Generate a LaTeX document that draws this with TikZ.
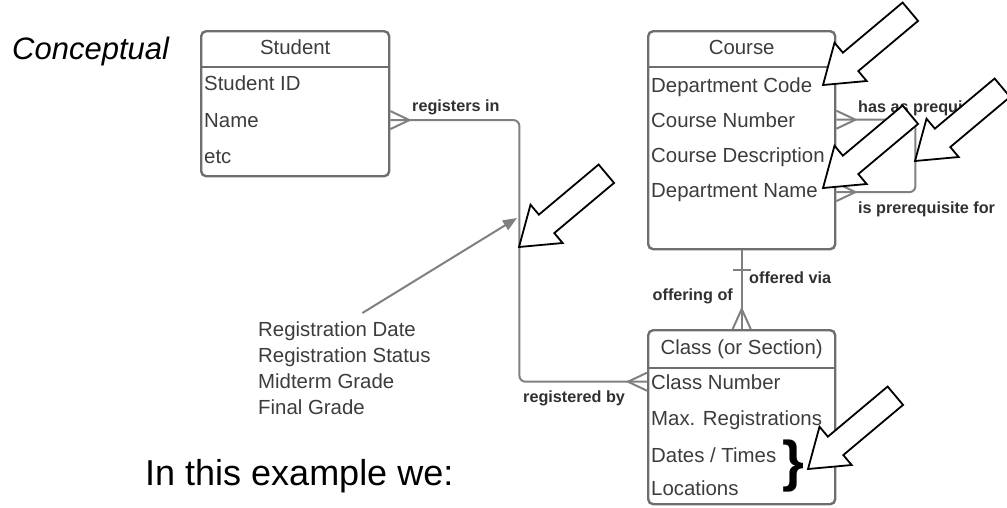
\documentclass[tikz,border=0pt]{standalone}
\usepackage{fontspec}
\setmainfont{Liberation Sans}
\usetikzlibrary{arrows.meta,positioning,calc}
\definecolor{boxgray}{HTML}{6E6E6E}
\definecolor{linegray}{HTML}{808080}
\definecolor{txtgray}{HTML}{3C3C3C}
\definecolor{lblgray}{HTML}{303030}
\newcommand{\hollowarrow}[1]{\draw[bigarrow,shift={(#1)},rotate=40] (0pt,0pt) -- (36pt,25pt) -- (36pt,12pt) -- (114pt,12pt) -- (114pt,-12pt) -- (36pt,-12pt) -- (36pt,-25pt) -- cycle;}

\begin{document}
\begin{tikzpicture}[x=1pt,y=-1pt,>=Latex,
  entity/.style={draw=boxgray,line width=2.4pt,rounded corners=5pt,inner sep=0pt},
  boxline/.style={draw=boxgray,line width=2.4pt},
  hdr/.style={anchor=base,inner sep=0pt,text=txtgray,font=\fontsize{20.4}{24}\selectfont},
  attr/.style={anchor=base west,inner sep=0pt,text=txtgray,font=\fontsize{20.4}{24}\selectfont},
  rel/.style={draw=linegray,line width=2pt},
  lbl/.style={inner sep=0pt,text=lblgray,font=\bfseries\fontsize{16.2}{19}\selectfont},
  bigarrow/.style={draw=black,fill=white,line width=1.8pt,line join=miter}]
\path[use as bounding box] (0,0) rectangle (1007,507);
\clip (0,0) rectangle (1007,507);

\node[anchor=base west,inner sep=0pt,font=\itshape\fontsize{31}{36}\selectfont] (concept) at (12,59) {Conceptual};

% entities
\node[entity,minimum width=188pt,minimum height=145pt,anchor=north west] (student) at (200,30) {};
\draw[boxline] ([yshift=-37pt]student.north west) -- ([yshift=-37pt]student.north east);
\node[hdr] (studenthd) at ([yshift=-24pt]student.north) {Student};
\node[attr] (stuid) at (204,90) {Student ID};
\node[attr] (stuname) at (204,127) {Name};
\node[attr] (stuetc) at (204,163) {etc};

\node[entity,minimum width=187pt,minimum height=218pt,anchor=north west] (course) at (647,30) {};
\draw[boxline] ([yshift=-37pt]course.north west) -- ([yshift=-37pt]course.north east);
\node[hdr] (coursehd) at ([yshift=-24pt]course.north) {Course};
\node[attr] (deptcode) at (651,92) {Department Code};
\node[attr] (crsnum) at (651,127) {Course Number};
\node[attr] (crsdesc) at (651,162) {Course Description};
\node[attr] (deptname) at (651,197) {Department Name};

\node[entity,minimum width=187pt,minimum height=174pt,anchor=north west] (class) at (647,329) {};
\draw[boxline] ([yshift=-39pt]class.north west) -- ([yshift=-39pt]class.north east);
\node[hdr] (classhd) at ([yshift=-25pt]class.north) {Class (or Section)};
\node[attr] (clsnum) at (651,389) {Class Number};
\node[attr] (clsmax) at (651,425) {Max. Registrations};
\node[attr] (clsdates) at (651,462) {Dates / Times};
\node[attr] (clsloc) at (651,495) {Locations};

% relationships
\draw[rel,rounded corners=6pt] (student.east |- stuname) -- ++(129,0) |- (class.west |- clsnum);
\draw[rel] ($(student.east |- stuname)+(0,-9)$) -- ++(19,9) -- ++(-19,9);
\draw[rel] ($(class.west |- clsnum)+(0,-9)$) -- ++(-19,9) -- ++(19,9);
\node[lbl,anchor=base west] (regin) at (412,111) {registers in};
\node[lbl,anchor=base west] (regby) at (523,402) {registered by};

\draw[rel,rounded corners=6pt] (course.east |- crsnum) -- ++(79,0) |- (course.east |- deptname);
\draw[rel] ($(course.east |- crsnum)+(0,-9)$) -- ++(19,9) -- ++(-19,9);
\draw[rel] ($(course.east |- deptname)+(0,-9)$) -- ++(19,9) -- ++(-19,9);
\node[lbl,anchor=base west] (hasprereq) at (858,112) {has as prequisite};
\node[lbl,anchor=base west] (isprereq) at (858,213) {is prerequisite for};

\draw[rel] (course.south) -- (class.north);
\draw[rel] ($(course.south)+(-9,20)$) -- ++(18,0);
\draw[rel] ($(class.north)+(-9,0)$) -- ++(9,-20) -- ++(9,20);
\node[lbl,anchor=base west] (offvia) at (749,283) {offered via};
\node[lbl,anchor=base east] (offof) at (733,300) {offering of};

% attributes of the registration
\node[anchor=north west,inner sep=0pt,align=left,text=txtgray,font=\fontsize{20.4}{25.7}\selectfont] (regattr) at (258,322) {Registration Date\\Registration Status\\Midterm Grade\\Final Grade};
\coordinate (regpt) at (517,218);
\draw[rel,-{Triangle[length=14pt,width=11pt]}] ($(regattr.north)+(18,-9)$) -- (regpt);

\node[inner sep=0pt,font=\bfseries\fontsize{56}{56}\selectfont] (brace) at (793,466) {\}};
\node[anchor=base west,inner sep=0pt,font=\fontsize{36}{42}\selectfont] (intro) at (145,485) {In this example we:};

% pointers
\coordinate (tipcode) at (823,85);
\coordinate (tipname) at (823,188);
\coordinate (tiploop) at (915,161);
\coordinate (tipreg) at (519,247);
\coordinate (tipdates) at (808,469);
\hollowarrow{tipcode}
\hollowarrow{tipname}
\hollowarrow{tiploop}
\hollowarrow{tipreg}
\hollowarrow{tipdates}
\end{tikzpicture}
\end{document}
